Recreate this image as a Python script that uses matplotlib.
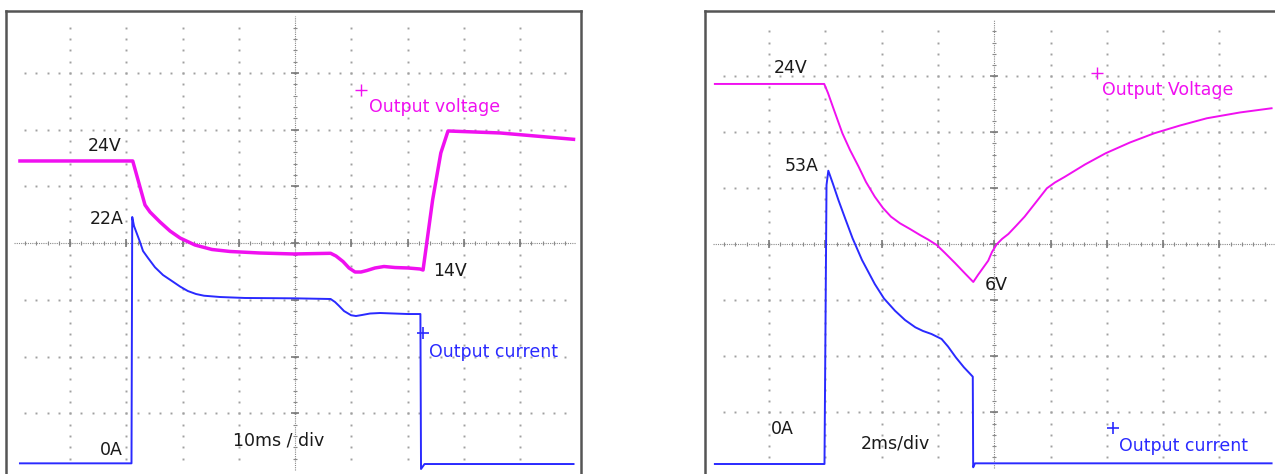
import numpy as np
import matplotlib.pyplot as plt

# traces read off the two scope screens, in graticule divisions
# (x: 0..10 div, y: 0..8 div from the bottom of the graticule)

# left screen, 10ms/div
left_v_x = [0.11, 2.115, 2.333, 2.422, 2.600, 2.778, 2.956, 3.222, 3.524, 3.844, 4.378,
            4.982, 5.633, 5.729, 5.853, 5.960, 6.067, 6.173, 6.280, 6.422, 6.582, 6.778,
            7.009, 7.222, 7.276, 7.446, 7.592, 7.720, 8.644, 9.951]
left_v_y = [5.45, 5.45, 4.674, 4.550, 4.374, 4.215, 4.092, 3.968, 3.889, 3.854, 3.827,
            3.810, 3.822, 3.774, 3.677, 3.563, 3.492, 3.492, 3.519, 3.563, 3.589, 3.571,
            3.563, 3.545, 3.527, 4.762, 5.591, 5.979, 5.944, 5.832]
left_i_x = [0.11, 2.093, 2.106, 2.138, 2.191, 2.244, 2.298, 2.387, 2.511, 2.653, 2.803,
            2.956, 3.094, 3.240, 3.382, 3.667, 4.111, 4.982, 5.633, 5.711, 5.779, 5.871,
            5.996, 6.084, 6.191, 6.333, 6.511, 7.009, 7.229, 7.240, 7.302, 9.951]
left_i_y = [0.118, 0.118, 4.462, 4.303, 4.162, 4.021, 3.862, 3.739, 3.575, 3.439, 3.339,
            3.236, 3.157, 3.104, 3.074, 3.051, 3.034, 3.028, 3.016, 2.963, 2.898, 2.804,
            2.730, 2.716, 2.734, 2.760, 2.769, 2.751, 2.751, 0.018, 0.106, 0.106]

# right screen, 2ms/div
right_v_x = [0.037, 1.979, 2.046, 2.153, 2.302, 2.437, 2.590, 2.721, 2.877, 3.023, 3.165,
             3.325, 3.503, 3.680, 3.822, 3.977, 4.124, 4.302, 4.480, 4.627, 4.710, 4.799,
             4.892, 4.959, 5.043, 5.137, 5.250, 5.385, 5.538, 5.723, 5.934, 6.078, 6.256,
             6.611, 6.977, 7.410, 7.840, 8.298, 8.774, 9.364, 9.925]
right_v_y = [6.863, 6.863, 6.702, 6.398, 5.982, 5.684, 5.386, 5.113, 4.850, 4.648, 4.493,
             4.375, 4.273, 4.166, 4.086, 3.988, 3.845, 3.666, 3.479, 3.327, 3.452, 3.577,
             3.707, 3.862, 4.000, 4.095, 4.184, 4.327, 4.493, 4.729, 5.000, 5.104, 5.207,
             5.425, 5.625, 5.818, 5.982, 6.121, 6.250, 6.354, 6.429]
right_i_x = [0.037, 1.984, 2.020, 2.052, 2.135, 2.231, 2.348, 2.483, 2.650, 2.877, 3.041,
             3.236, 3.414, 3.597, 3.734, 3.885, 4.064, 4.178, 4.316, 4.460, 4.618, 4.625,
             4.657, 9.925]
right_i_y = [0.077, 0.077, 5.059, 5.314, 5.077, 4.791, 4.470, 4.107, 3.720, 3.291, 3.032,
             2.814, 2.648, 2.518, 2.452, 2.398, 2.309, 2.175, 1.982, 1.804, 1.636, 0.018,
             0.089, 0.089]

MAG = '#f010f0'
BLUE = '#2a2aff'
TXT = '#1a1a1a'
FS = 12.5

plt.rcParams['font.family'] = ['DejaVu Sans']

fig = plt.figure(figsize=(12.75, 4.74), dpi=100)

# axes boxes in figure fractions (frames are cut at the bottom / right of the picture)
ax1 = fig.add_axes([6 / 1275, -1.7 / 474, 575 / 1275, 465 / 474])
ax2 = fig.add_axes([705.3 / 1275, -4 / 474, 577.7 / 1275, 467.3 / 474])
ax1.set_xlim(-0.138, 10.084)
ax1.set_ylim(-0.100, 8.100)
ax2.set_xlim(-0.133, 10.128)
ax2.set_ylim(-0.173, 8.171)


def graticule(ax):
    minor = np.arange(0.2, 10.0, 0.2)
    minor_y = np.arange(0.2, 8.0, 0.2)
    for gy in range(1, 8):
        if gy == 4:
            continue
        ax.plot(minor, np.full_like(minor, gy), ls='none', marker='s', ms=1.4,
                mew=0, color='#a0a0a0', zorder=1)
    for gx in range(1, 10):
        if gx == 5:
            continue
        ax.plot(np.full_like(minor_y, gx), minor_y, ls='none', marker='s', ms=1.4,
                mew=0, color='#a0a0a0', zorder=1)
    # centre axes: fine dotted line with tick marks
    ax.plot([0, 10], [4, 4], ls=(0, (1, 1)), lw=0.8, color='#8a8a8a', zorder=1)
    ax.plot([5, 5], [0, 8], ls=(0, (1, 1)), lw=0.8, color='#8a8a8a', zorder=1)
    ax.plot(minor, np.full_like(minor, 4), ls='none', marker='|', ms=3, mew=0.8,
            color='#8a8a8a', zorder=1)
    ax.plot(np.full_like(minor_y, 5), minor_y, ls='none', marker='_', ms=3, mew=0.8,
            color='#8a8a8a', zorder=1)
    big = np.arange(1, 10)
    ax.plot(big, np.full_like(big, 4.0, dtype=float), ls='none', marker='|', ms=6,
            mew=1.2, color='#7a7a7a', zorder=1)
    bigy = np.arange(1, 8)
    ax.plot(np.full_like(bigy, 5.0, dtype=float), bigy, ls='none', marker='_', ms=6,
            mew=1.2, color='#7a7a7a', zorder=1)
    ax.set_xticks([])
    ax.set_yticks([])
    for s in ax.spines.values():
        s.set_color('#555555')
        s.set_linewidth(1.8)


graticule(ax1)
graticule(ax2)

# left screen
ax1.plot(left_v_x, left_v_y, color=MAG, lw=2.5, solid_joinstyle='round', zorder=3)
ax1.plot(left_i_x, left_i_y, color=BLUE, lw=1.4, solid_joinstyle='round', zorder=3)

ax1.text(1.316, 5.63, '24V', color=TXT, fontsize=FS, ha='left', va='baseline')
ax1.text(1.352, 4.34, '22A', color=TXT, fontsize=FS, ha='left', va='baseline')
ax1.text(1.533, 0.265, '0A', color=TXT, fontsize=FS, ha='left', va='baseline')
ax1.text(7.45, 3.43, '14V', color=TXT, fontsize=FS, ha='left', va='baseline')
ax1.text(3.89, 0.44, '10ms / div', color=TXT, fontsize=FS, ha='left', va='baseline')
ax1.plot(6.18, 6.70, marker='+', ms=8, mew=1.0, color=MAG)
ax1.text(6.31, 6.32, 'Output voltage', color=MAG, fontsize=FS, ha='left', va='baseline')
ax1.plot(7.28, 2.41, marker='+', ms=8, mew=1.2, color=BLUE)
ax1.text(7.375, 2.0, 'Output current', color=BLUE, fontsize=FS, ha='left', va='baseline')

# right screen
ax2.plot(right_v_x, right_v_y, color=MAG, lw=1.4, solid_joinstyle='round', zorder=3)
ax2.plot(right_i_x, right_i_y, color=BLUE, lw=1.4, solid_joinstyle='round', zorder=3)

ax2.text(1.075, 7.05, '24V', color=TXT, fontsize=FS, ha='left', va='baseline')
ax2.text(1.27, 5.30, '53A', color=TXT, fontsize=FS, ha='left', va='baseline')
ax2.text(4.83, 3.18, '6V', color=TXT, fontsize=FS, ha='left', va='baseline')
ax2.text(1.04, 0.61, '0A', color=TXT, fontsize=FS, ha='left', va='baseline')
ax2.text(2.625, 0.345, '2ms/div', color=TXT, fontsize=FS, ha='left', va='baseline')
ax2.plot(6.82, 7.06, marker='+', ms=8, mew=1.0, color=MAG)
ax2.text(6.92, 6.67, 'Output Voltage', color=MAG, fontsize=FS, ha='left', va='baseline')
ax2.plot(7.10, 0.72, marker='+', ms=8, mew=1.2, color=BLUE)
ax2.text(7.215, 0.31, 'Output current', color=BLUE, fontsize=FS, ha='left', va='baseline')

fig.savefig('out.png', dpi=100)
